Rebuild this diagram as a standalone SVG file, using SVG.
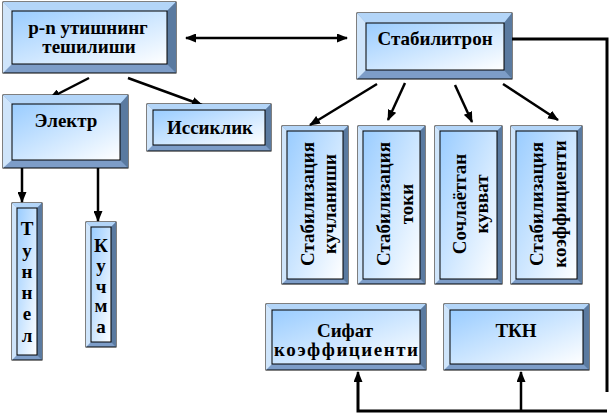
<svg xmlns="http://www.w3.org/2000/svg" width="609" height="413" viewBox="0 0 609 413">
<defs>
<linearGradient id="g" x1="0" y1="0" x2="1" y2="1">
<stop offset="0" stop-color="#99ccff"/>
<stop offset="1" stop-color="#ffffff"/>
</linearGradient>
<marker id="ah" markerUnits="userSpaceOnUse" markerWidth="11" markerHeight="9" refX="10" refY="4.5" orient="auto-start-reverse" viewBox="0 0 11 9">
<path d="M0,0 L11,4.5 L0,9 z" fill="#000"/>
</marker>
<style>
.ob{fill:#7d9dc8;stroke:#000;stroke-width:1}
.bt{fill:#b3d5f8}
.bl{fill:#cfe5fb}
.br{fill:#5a7aa0}
.in{fill:url(#g);stroke:#000;stroke-width:1}
.t{font-family:"Liberation Serif","Times New Roman",serif;font-weight:bold;font-size:19px;fill:#000;text-anchor:middle}
.c{fill:none;stroke:#000;stroke-width:3}
.a{fill:none;stroke:#000;stroke-width:2.5;marker-end:url(#ah)}
</style>
</defs>
<rect width="609" height="413" fill="#fff"/>

<g id="connectors">
<line x1="186" y1="38" x2="347" y2="38" class="a" style="marker-start:url(#ah)"/>
<polyline points="512,39 607,39 607,392" class="c"/>
<polyline points="607,411 358,411 358,380" class="c"/>
<line x1="358" y1="382" x2="358" y2="372" class="a"/>
<line x1="521" y1="411" x2="521" y2="372" class="a"/>
<line x1="89" y1="78" x2="50" y2="98" class="a"/>
<line x1="128" y1="78" x2="202" y2="105" class="a"/>
<line x1="22" y1="168" x2="22" y2="202" class="a"/>
<line x1="98" y1="168" x2="98" y2="221" class="a"/>
<line x1="377" y1="84" x2="310" y2="125" class="a"/>
<line x1="405" y1="83" x2="388" y2="120" class="a"/>
<line x1="455" y1="85" x2="472" y2="122" class="a"/>
<line x1="503" y1="84" x2="558" y2="120" class="a"/>
</g>

<g id="pn">
<rect x="3" y="2" width="173" height="71" class="ob"/>
<polygon points="3,2 176,2 167,11 12,11" class="bt"/>
<polygon points="3,2 12,11 12,64 3,73" class="bl"/>
<polygon points="176,2 176,73 167,64 167,11" class="br"/>
<rect x="12" y="11" width="155" height="53" class="in"/>
<text x="88" y="34" class="t">p-n утишнинг</text>
<text x="89" y="53" class="t">тешилиши</text>
</g>

<g id="stabilitron">
<rect x="357" y="13" width="155" height="66" class="ob"/>
<polygon points="357,13 512,13 504,23 366,23" class="bt"/>
<polygon points="357,13 366,23 366,70 357,79" class="bl"/>
<polygon points="512,13 512,79 504,70 504,23" class="br"/>
<rect x="366" y="23" width="138" height="47" class="in"/>
<text x="435" y="45" class="t">Стабилитрон</text>
</g>

<g id="elektr">
<rect x="3" y="95" width="125" height="73" class="ob"/>
<polygon points="3,95 128,95 120,104 12,104" class="bt"/>
<polygon points="3,95 12,104 12,160 3,168" class="bl"/>
<polygon points="128,95 128,168 120,160 120,104" class="br"/>
<rect x="12" y="104" width="108" height="56" class="in"/>
<text x="66" y="127" class="t">Электр</text>
</g>

<g id="issiklik">
<rect x="147" y="104" width="124" height="47" class="ob"/>
<polygon points="147,104 271,104 265,110 153,110" class="bt"/>
<polygon points="147,104 153,110 153,145 147,151" class="bl"/>
<polygon points="271,104 271,151 265,145 265,110" class="br"/>
<rect x="153" y="110" width="112" height="35" class="in"/>
<text x="210" y="134" class="t">Иссиклик</text>
</g>

<g id="tunnel">
<rect x="12" y="203" width="30" height="157" class="ob"/>
<polygon points="12,203 42,203 37,208 17,208" class="bt"/>
<polygon points="12,203 17,208 17,355 12,360" class="bl"/>
<polygon points="42,203 42,360 37,355 37,208" class="br"/>
<rect x="17" y="208" width="20" height="147" class="in"/>
<text x="27" y="235" class="t">Т</text>
<text x="27" y="257" class="t">у</text>
<text x="27" y="278" class="t">н</text>
<text x="27" y="299" class="t">н</text>
<text x="27" y="320" class="t">е</text>
<text x="27" y="342" class="t">л</text>
</g>

<g id="kuchma">
<rect x="86" y="222" width="30" height="125" class="ob"/>
<polygon points="86,222 116,222 111,227 91,227" class="bt"/>
<polygon points="86,222 91,227 91,342 86,347" class="bl"/>
<polygon points="116,222 116,347 111,342 111,227" class="br"/>
<rect x="91" y="227" width="20" height="115" class="in"/>
<text x="101" y="252" class="t">К</text>
<text x="101" y="272" class="t">у</text>
<text x="101" y="293" class="t">ч</text>
<text x="101" y="312" class="t">м</text>
<text x="101" y="333" class="t">а</text>
</g>

<g id="stab-kuch">
<rect x="282" y="126" width="66" height="158" class="ob"/>
<polygon points="282,126 348,126 343,131 287,131" class="bt"/>
<polygon points="282,126 287,131 287,279 282,284" class="bl"/>
<polygon points="348,126 348,284 343,279 343,131" class="br"/>
<rect x="287" y="131" width="56" height="148" class="in"/>
<text transform="translate(314,204) rotate(-90)" class="t">Стабилизация</text>
<text transform="translate(336,204) rotate(-90)" class="t">кучланиши</text>
</g>

<g id="stab-tok">
<rect x="358" y="126" width="67" height="158" class="ob"/>
<polygon points="358,126 425,126 420,131 363,131" class="bt"/>
<polygon points="358,126 363,131 363,279 358,284" class="bl"/>
<polygon points="425,126 425,284 420,279 420,131" class="br"/>
<rect x="363" y="131" width="57" height="148" class="in"/>
<text transform="translate(390,204) rotate(-90)" class="t">Стабилизация</text>
<text transform="translate(413,204) rotate(-90)" class="t">токи</text>
</g>

<g id="sochl">
<rect x="435" y="126" width="67" height="158" class="ob"/>
<polygon points="435,126 502,126 497,131 440,131" class="bt"/>
<polygon points="435,126 440,131 440,279 435,284" class="bl"/>
<polygon points="502,126 502,284 497,279 497,131" class="br"/>
<rect x="440" y="131" width="57" height="148" class="in"/>
<text transform="translate(466,204) rotate(-90)" class="t">Сочлаётган</text>
<text transform="translate(488,204) rotate(-90)" class="t">кувват</text>
</g>

<g id="stab-koef">
<rect x="511" y="126" width="71" height="158" class="ob"/>
<polygon points="511,126 582,126 577,131 516,131" class="bt"/>
<polygon points="511,126 516,131 516,279 511,284" class="bl"/>
<polygon points="582,126 582,284 577,279 577,131" class="br"/>
<rect x="516" y="131" width="61" height="148" class="in"/>
<text transform="translate(543,204) rotate(-90)" class="t">Стабилизация</text>
<text transform="translate(566,204) rotate(-90)" class="t">коэффициенти</text>
</g>

<g id="sifat">
<rect x="266" y="304" width="160" height="66" class="ob"/>
<polygon points="266,304 426,304 420,310 272,310" class="bt"/>
<polygon points="266,304 272,310 272,364 266,370" class="bl"/>
<polygon points="426,304 426,370 420,364 420,310" class="br"/>
<rect x="272" y="310" width="148" height="54" class="in"/>
<text x="345" y="337" class="t">Сифат</text>
<text x="346" y="356" class="t" textLength="144" lengthAdjust="spacing">коэффициенти</text>
</g>

<g id="tkn">
<rect x="444" y="304" width="145" height="66" class="ob"/>
<polygon points="444,304 589,304 583,310 450,310" class="bt"/>
<polygon points="444,304 450,310 450,364 444,370" class="bl"/>
<polygon points="589,304 589,370 583,364 583,310" class="br"/>
<rect x="450" y="310" width="133" height="54" class="in"/>
<text x="516" y="337" class="t">ТКН</text>
</g>
</svg>
